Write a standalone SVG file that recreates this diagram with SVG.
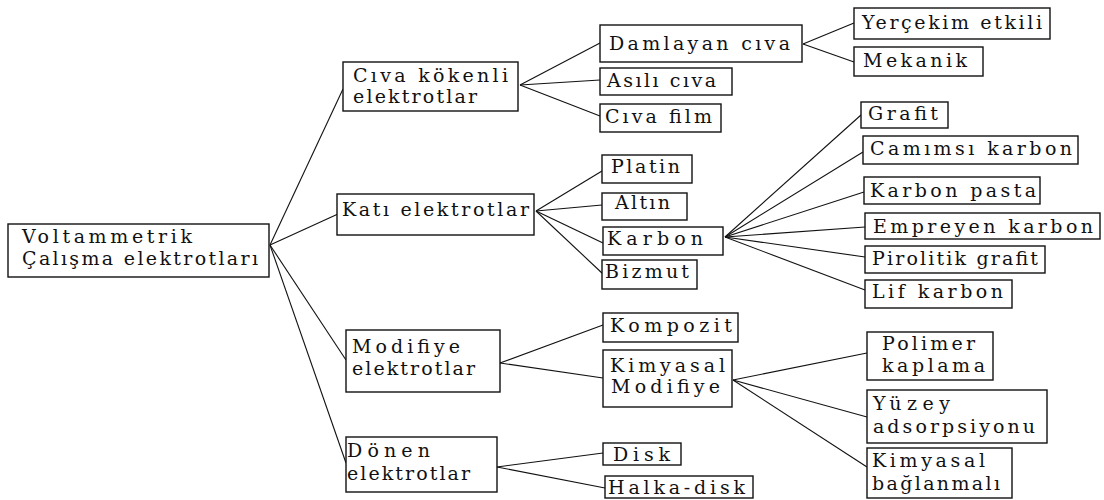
<svg xmlns="http://www.w3.org/2000/svg" width="1104" height="500" viewBox="0 0 1104 500">
<style>
  .box { fill: #fff; stroke: #111; stroke-width: 1.4; }
  .t { font-family: "DejaVu Serif", "Liberation Serif", serif; font-size: 19px; fill: #111; }
  #connectors line { stroke: #111; stroke-width: 1.1; }
</style>
<rect x="0" y="0" width="1104" height="500" fill="#fff"/>
<g id="connectors">
  <line x1="270" y1="245" x2="343" y2="89"/>
  <line x1="270" y1="245" x2="338" y2="214"/>
  <line x1="270" y1="245" x2="346" y2="360"/>
  <line x1="270" y1="245" x2="346" y2="463"/>
  <line x1="520" y1="85" x2="600" y2="43"/>
  <line x1="520" y1="85" x2="600" y2="80"/>
  <line x1="520" y1="85" x2="600" y2="116"/>
  <line x1="803" y1="44" x2="854" y2="23"/>
  <line x1="803" y1="44" x2="854" y2="62"/>
  <line x1="536" y1="211" x2="602" y2="171"/>
  <line x1="536" y1="211" x2="602" y2="205"/>
  <line x1="536" y1="211" x2="603" y2="243"/>
  <line x1="536" y1="211" x2="603" y2="274"/>
  <line x1="725" y1="237" x2="861" y2="115"/>
  <line x1="725" y1="237" x2="863" y2="152"/>
  <line x1="725" y1="237" x2="864" y2="192"/>
  <line x1="725" y1="237" x2="865" y2="227"/>
  <line x1="725" y1="237" x2="865" y2="257"/>
  <line x1="725" y1="237" x2="865" y2="290"/>
  <line x1="500" y1="363" x2="603" y2="325"/>
  <line x1="500" y1="363" x2="603" y2="378"/>
  <line x1="733" y1="380" x2="867" y2="353"/>
  <line x1="733" y1="380" x2="867" y2="417"/>
  <line x1="733" y1="380" x2="867" y2="467"/>
  <line x1="497" y1="467" x2="603" y2="453"/>
  <line x1="497" y1="467" x2="605" y2="488"/>
</g>
<g id="root">
  <rect class="box" x="8" y="224" width="261" height="53"/>
  <text class="t" x="22" y="243" textLength="170">Voltammetrik</text>
  <text class="t" x="22" y="265" textLength="236">Çalışma elektrotları</text>
</g>
<g id="civa-kokenli">
  <rect class="box" x="343" y="62" width="175" height="49"/>
  <text class="t" x="353" y="82" textLength="155">Cıva kökenli</text>
  <text class="t" x="353" y="103" textLength="124">elektrotlar</text>
</g>
<g id="damlayan">
  <rect class="box" x="600" y="25" width="202" height="37"/>
  <text class="t" x="609" y="50" textLength="181">Damlayan cıva</text>
</g>
<g id="asili">
  <rect class="box" x="600" y="68" width="132" height="27"/>
  <text class="t" x="607" y="87" textLength="109">Asılı cıva</text>
</g>
<g id="civa-film">
  <rect class="box" x="600" y="104" width="121" height="28"/>
  <text class="t" x="605" y="123" textLength="107">Cıva film</text>
</g>
<g id="yercekim">
  <rect class="box" x="854" y="8" width="196" height="31"/>
  <text class="t" x="862" y="29" textLength="180">Yerçekim etkili</text>
</g>
<g id="mekanik">
  <rect class="box" x="854" y="47" width="129" height="29"/>
  <text class="t" x="863" y="67" textLength="104">Mekanik</text>
</g>
<g id="kati">
  <rect class="box" x="337" y="194" width="197" height="41"/>
  <text class="t" x="342" y="216" textLength="187">Katı elektrotlar</text>
</g>
<g id="platin">
  <rect class="box" x="602" y="155" width="90" height="28"/>
  <text class="t" x="611" y="173" textLength="69">Platin</text>
</g>
<g id="altin">
  <rect class="box" x="602" y="193" width="85" height="27"/>
  <text class="t" x="615" y="209" textLength="55">Altın</text>
</g>
<g id="karbon">
  <rect class="box" x="603" y="227" width="120" height="28"/>
  <text class="t" x="607" y="245" textLength="96">Karbon</text>
</g>
<g id="bizmut">
  <rect class="box" x="602" y="260" width="95" height="29"/>
  <text class="t" x="605" y="278" textLength="84">Bizmut</text>
</g>
<g id="grafit">
  <rect class="box" x="861" y="102" width="87" height="26"/>
  <text class="t" x="868" y="120" textLength="70">Grafit</text>
</g>
<g id="camimsi">
  <rect class="box" x="863" y="136" width="215" height="28"/>
  <text class="t" x="870" y="155" textLength="202">Camımsı karbon</text>
</g>
<g id="karbon-pasta">
  <rect class="box" x="864" y="177" width="176" height="27"/>
  <text class="t" x="870" y="197" textLength="166">Karbon pasta</text>
</g>
<g id="empreyen">
  <rect class="box" x="865" y="213" width="235" height="26"/>
  <text class="t" x="873" y="233" textLength="220">Empreyen karbon</text>
</g>
<g id="pirolitik">
  <rect class="box" x="865" y="246" width="180" height="27"/>
  <text class="t" x="872" y="265" textLength="166">Pirolitik grafit</text>
</g>
<g id="lif">
  <rect class="box" x="865" y="280" width="147" height="28"/>
  <text class="t" x="872" y="298" textLength="131">Lif karbon</text>
</g>
<g id="modifiye">
  <rect class="box" x="346" y="330" width="154" height="62"/>
  <text class="t" x="352" y="353" textLength="108">Modifiye</text>
  <text class="t" x="352" y="375" textLength="123">elektrotlar</text>
</g>
<g id="kompozit">
  <rect class="box" x="603" y="313" width="135" height="29"/>
  <text class="t" x="610" y="332" textLength="122">Kompozit</text>
</g>
<g id="kimyasal-modifiye">
  <rect class="box" x="603" y="350" width="129" height="57"/>
  <text class="t" x="610" y="372" textLength="115">Kimyasal</text>
  <text class="t" x="611" y="393" textLength="109">Modifiye</text>
</g>
<g id="polimer">
  <rect class="box" x="867" y="332" width="126" height="48"/>
  <text class="t" x="882" y="350" textLength="93">Polimer</text>
  <text class="t" x="882" y="372" textLength="103">kaplama</text>
</g>
<g id="yuzey">
  <rect class="box" x="867" y="390" width="180" height="53"/>
  <text class="t" x="873" y="410" textLength="77">Yüzey</text>
  <text class="t" x="873" y="433" textLength="162">adsorpsiyonu</text>
</g>
<g id="kimyasal-baglanmali">
  <rect class="box" x="867" y="448" width="145" height="50"/>
  <text class="t" x="872" y="467" textLength="113">Kimyasal</text>
  <text class="t" x="872" y="490" textLength="128">bağlanmalı</text>
</g>
<g id="donen">
  <rect class="box" x="346" y="437" width="151" height="55"/>
  <text class="t" x="347" y="457" textLength="83">Dönen</text>
  <text class="t" x="347" y="480" textLength="123">elektrotlar</text>
</g>
<g id="disk">
  <rect class="box" x="603" y="443" width="78" height="22"/>
  <text class="t" x="613" y="461" textLength="57">Disk</text>
</g>
<g id="halka-disk">
  <rect class="box" x="605" y="476" width="148" height="22"/>
  <text class="t" x="608" y="494" textLength="137">Halka-disk</text>
</g>
</svg>
